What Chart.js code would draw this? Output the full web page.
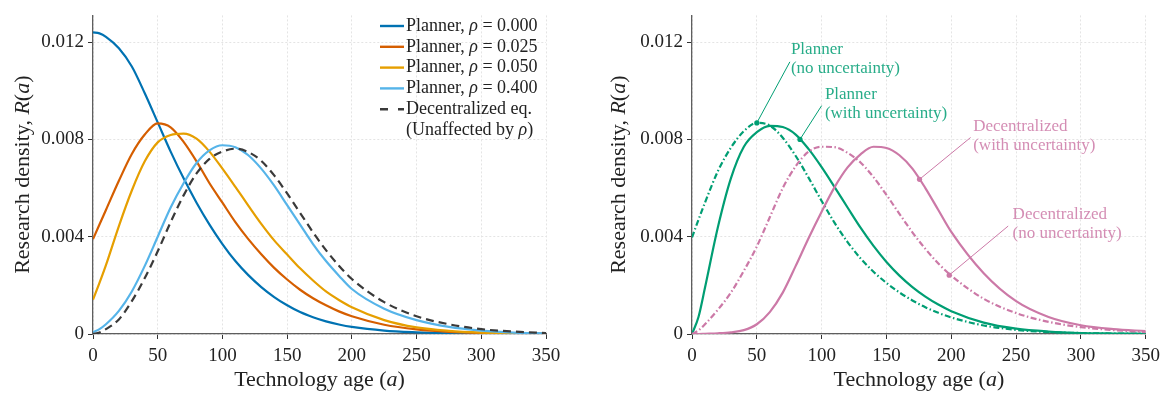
<!DOCTYPE html>
<html>
<head>
<meta charset="utf-8">
<script src="https://cdn.jsdelivr.net/npm/chart.js@4.4.1/dist/chart.umd.min.js"></script>
<style>
  html, body { margin: 0; padding: 0; background: #fff; }
  #wrap { position: relative; width: 1166px; height: 393px; }
  .panel { position: absolute; top: 0; width: 583px; height: 393px; }
</style>
</head>
<body>
<div id="wrap">
  <div class="panel" style="left:0"><canvas id="left" width="583" height="393"></canvas></div>
  <div class="panel" style="left:583px"><canvas id="right" width="583" height="393"></canvas></div>
</div>
<script>
// technology age grid the curves were read at
const ages = [0, 5, 10, 20, 30, 40, 50, 60, 70, 80, 90, 100, 110, 120, 130, 140, 150, 160, 170, 180, 190, 200, 225, 250, 275, 300, 325, 350];

// left panel: planner for different rho, plus decentralized eq.
const planner000 = [0.01240, 0.01236, 0.01222, 0.01175, 0.01100, 0.0099, 0.0087, 0.0075, 0.0064, 0.0054, 0.0045, 0.0037, 0.0030, 0.00242, 0.00193, 0.00152, 0.00118, 0.0009, 0.00069, 0.00052, 0.00039, 0.00029, 0.00014, 0.00007, 0.00003, 0.00001, 0.000005, 0];
const planner025 = [0.0039, 0.0045, 0.0051, 0.0063, 0.0074, 0.0082, 0.00866, 0.0085, 0.0079, 0.0071, 0.0062, 0.0054, 0.0046, 0.0039, 0.00328, 0.00272, 0.00224, 0.00182, 0.00147, 0.00118, 0.00093, 0.00073, 0.00038, 0.00019, 0.00009, 0.00004, 0.00002, 0.00001];
const planner050 = [0.00141, 0.0021, 0.00283, 0.00444, 0.0059, 0.0071, 0.00788, 0.00818, 0.00824, 0.00803, 0.0075, 0.0068, 0.00605, 0.00528, 0.00453, 0.00385, 0.00327, 0.0027, 0.0022, 0.00175, 0.0014, 0.0011, 0.00057, 0.00027, 0.00013, 0.00006, 0.00003, 0.00001];
const planner400 = [0.00007, 0.0002, 0.0004, 0.00095, 0.00175, 0.0028, 0.0040, 0.0052, 0.0062, 0.00703, 0.00755, 0.00776, 0.00768, 0.00735, 0.0068, 0.0061, 0.0053, 0.0045, 0.0037, 0.0030, 0.0024, 0.00185, 0.00104, 0.00057, 0.00029, 0.00014, 0.00006, 0.00003];
const decentralEq = [0, 0.00006, 0.0002, 0.0006, 0.00135, 0.0023, 0.0034, 0.0046, 0.0057, 0.0066, 0.0072, 0.0075, 0.00762, 0.00748, 0.00712, 0.00652, 0.00578, 0.00498, 0.00418, 0.00345, 0.00281, 0.00226, 0.00131, 0.00073, 0.0004, 0.0002, 0.0001, 0.00004];

// right panel: with / without uncertainty
const plannerNoUnc = [0.00397, 0.0047, 0.0054, 0.0067, 0.00766, 0.00834, 0.00868, 0.00857, 0.00807, 0.00732, 0.00642, 0.00547, 0.00457, 0.00378, 0.00311, 0.00256, 0.0021, 0.00171, 0.00138, 0.0011, 0.00087, 0.00068, 0.00035, 0.00017, 0.00008, 0.00004, 0.00002, 0.00001];
const plannerUnc = [0, 0.0007, 0.0019, 0.0044, 0.0064, 0.0077, 0.0083, 0.00856, 0.00851, 0.0082, 0.0076, 0.00686, 0.00604, 0.0052, 0.00437, 0.00362, 0.00296, 0.0024, 0.00193, 0.00154, 0.00121, 0.00094, 0.00047, 0.00022, 0.0001, 0.00004, 0.00002, 0.00001];
const decentralNoUnc = [0, 0.00015, 0.0004, 0.001, 0.0017, 0.0026, 0.0036, 0.0048, 0.0060, 0.0069, 0.0075, 0.0077, 0.00768, 0.00745, 0.00705, 0.00645, 0.00572, 0.00494, 0.00418, 0.0035, 0.0029, 0.0024, 0.00145, 0.00086, 0.0005, 0.00028, 0.00016, 0.00008];
const decentralUnc = [0, 0, 0.00001, 0.00003, 0.00007, 0.00016, 0.0004, 0.0009, 0.0017, 0.0028, 0.00395, 0.00503, 0.00604, 0.00685, 0.00739, 0.0077, 0.00765, 0.00735, 0.0068, 0.0060, 0.0051, 0.0042, 0.0025, 0.00135, 0.0007, 0.00036, 0.0002, 0.00012];

const xTicks = [0, 50, 100, 150, 200, 250, 300, 350];
const yTicks = [0, 0.004, 0.008, 0.012];
const yTickLabels = ['0', '0.004', '0.008', '0.012'];
const rhoLabels = ['0.000', '0.025', '0.050', '0.400'];

// annotations on the right panel: [age, R] of the point, the label corner and the leader start
const noteTexts = [['Planner', '(no uncertainty)'], ['Planner', '(with uncertainty)'], ['Decentralized', '(with uncertainty)'], ['Decentralized', '(no uncertainty)']];
const noteAnchors = [[50, 0.00868], [83.3, 0.00800], [175.5, 0.00636], [198.4, 0.00242]];
const noteLabels = [[76.3, 0.01168], [102.5, 0.00986], [216.9, 0.00855], [247.3, 0.00492]];
const noteLeaders = [[75.5, 0.01119], [100, 0.00939], [214.9, 0.00808], [243.9, 0.00444]];

const SERIF = '"Liberation Serif", "DejaVu Serif", serif';
const TEXT = '#222';
const GREEN = '#009E73', PINK = '#CC79A7';
const DASH = [8, 5];
const DASHDOT = [6, 2.5, 1.5, 2.5];

const toPts = vals => ages.map((a, i) => ({ x: a, y: vals[i] }));

function line(label, vals, color, dash, order) {
    return {
        label, data: toPts(vals), borderColor: color, borderWidth: 2.2,
        borderDash: dash || [], pointRadius: 0, fill: false,
        cubicInterpolationMode: 'monotone', order
    };
}

function makeOptions(yWidth, padRight) {
    const grid = { color: '#e4e4e4', lineWidth: 1, tickLength: 5, tickColor: '#333', tickWidth: 1 };
    const border = { color: '#5e5e5e', width: 1.3, dash: [2, 2] };
    return {
        responsive: false,
        animation: false,
        devicePixelRatio: 1,
        layout: { padding: { top: 9, right: padRight, left: 0, bottom: 0 } },
        plugins: { legend: { display: false }, tooltip: { enabled: false } },
        scales: {
            x: {
                type: 'linear', min: 0, max: 350,
                afterBuildTicks: s => { s.ticks = xTicks.map(v => ({ value: v })); },
                afterFit: s => { s.height = 59; },
                grid, border,
                ticks: { font: { family: SERIF, size: 19 }, color: TEXT, padding: 6, maxRotation: 0 }
            },
            y: {
                min: 0, max: 0.0131,
                afterBuildTicks: s => { s.ticks = yTicks.map(v => ({ value: v })); },
                afterFit: s => { s.width = yWidth; },
                grid, border,
                ticks: { font: { family: SERIF, size: 19 }, color: TEXT, padding: 4, callback: (v, i) => yTickLabels[i] }
            }
        }
    };
}

// draws text where parts wrapped in *...* are italic
function richText(ctx, str, x, y, size) {
    str.split('*').forEach((p, i) => {
        ctx.font = (i % 2 ? 'italic ' : '') + size + 'px ' + SERIF;
        ctx.fillText(p, x, y);
        x += ctx.measureText(p).width;
    });
    return x;
}

function richWidth(ctx, str, size) {
    let w = 0;
    str.split('*').forEach((p, i) => {
        ctx.font = (i % 2 ? 'italic ' : '') + size + 'px ' + SERIF;
        w += ctx.measureText(p).width;
    });
    return w;
}

// axis titles, drawn by hand so the variables come out italic
const axisTitles = {
    id: 'axisTitles',
    afterDraw(chart) {
        const { ctx, chartArea } = chart;
        ctx.save();
        ctx.fillStyle = TEXT;
        ctx.textBaseline = 'middle';
        const xs = 'Technology age (*a*)';
        richText(ctx, xs, (chartArea.left + chartArea.right) / 2 - richWidth(ctx, xs, 22) / 2, 380, 22);
        const ys = 'Research density, *R*(*a*)';
        const w = richWidth(ctx, ys, 22);
        ctx.translate(chart.canvas.id === 'left' ? 23 : 36, (chartArea.top + chartArea.bottom) / 2);
        ctx.rotate(-Math.PI / 2);
        richText(ctx, ys, -w / 2, 0, 22);
        ctx.restore();
    }
};

const legendColors = ['#0072B2', '#D55E00', '#E69F00', '#56B4E9'];

const leftLegend = {
    id: 'leftLegend',
    afterDraw(chart) {
        const ctx = chart.ctx;
        ctx.save();
        ctx.textBaseline = 'middle';
        ctx.fillStyle = TEXT;
        const rows = rhoLabels.map((r, i) => ({ color: legendColors[i], dash: [], text: 'Planner, *ρ* = ' + r }));
        rows.push({ color: '#3a3a3a', dash: [8, 10], text: 'Decentralized eq.' });
        rows.forEach((row, i) => {
            const y = 26 + i * 20.8;
            ctx.strokeStyle = row.color;
            ctx.lineWidth = 2.4;
            ctx.setLineDash(row.dash);
            ctx.beginPath(); ctx.moveTo(380, y); ctx.lineTo(404, y); ctx.stroke();
            richText(ctx, row.text, 406, y, 18);
        });
        richText(ctx, '(Unaffected by *ρ*)', 406, 26 + 5 * 20.8, 18);
        ctx.restore();
    }
};

const notesPlugin = {
    id: 'notes',
    afterDatasetsDraw(chart) {
        const { ctx, scales: { x, y } } = chart;
        ctx.save();
        ctx.textBaseline = 'middle';
        ctx.font = '17px ' + SERIF;
        noteTexts.forEach((lines, i) => {
            const col = i < 2 ? GREEN : PINK;
            const ax = x.getPixelForValue(noteAnchors[i][0]), ay = y.getPixelForValue(noteAnchors[i][1]);
            const lx = x.getPixelForValue(noteLeaders[i][0]), ly = y.getPixelForValue(noteLeaders[i][1]);
            ctx.strokeStyle = col; ctx.lineWidth = 1; ctx.setLineDash([]);
            ctx.beginPath(); ctx.moveTo(lx, ly); ctx.lineTo(ax, ay); ctx.stroke();
            ctx.fillStyle = col;
            ctx.beginPath(); ctx.arc(ax, ay, 2.6, 0, Math.PI * 2); ctx.fill();
            ctx.globalAlpha = 0.85;
            const tx = x.getPixelForValue(noteLabels[i][0]), ty = y.getPixelForValue(noteLabels[i][1]);
            lines.forEach((t, k) => ctx.fillText(t, tx, ty + k * 19));
            ctx.globalAlpha = 1;
        });
        ctx.restore();
    }
};

new Chart(document.getElementById('left'), {
    type: 'line',
    data: {
        datasets: [
            line('Planner, ρ = 0.000', planner000, legendColors[0], null, 5),
            line('Planner, ρ = 0.025', planner025, legendColors[1], null, 4),
            line('Planner, ρ = 0.050', planner050, legendColors[2], null, 3),
            line('Planner, ρ = 0.400', planner400, legendColors[3], null, 2),
            line('Decentralized eq.', decentralEq, '#3a3a3a', DASH, 1)
        ]
    },
    options: makeOptions(93, 37),
    plugins: [axisTitles, leftLegend]
});

new Chart(document.getElementById('right'), {
    type: 'line',
    data: {
        datasets: [
            line('Planner (no uncertainty)', plannerNoUnc, GREEN, DASHDOT, 4),
            line('Planner (with uncertainty)', plannerUnc, GREEN, null, 3),
            line('Decentralized (no uncertainty)', decentralNoUnc, PINK, DASHDOT, 2),
            line('Decentralized (with uncertainty)', decentralUnc, PINK, null, 1)
        ]
    },
    options: makeOptions(109, 20),
    plugins: [axisTitles, notesPlugin]
});
</script>
</body>
</html>
